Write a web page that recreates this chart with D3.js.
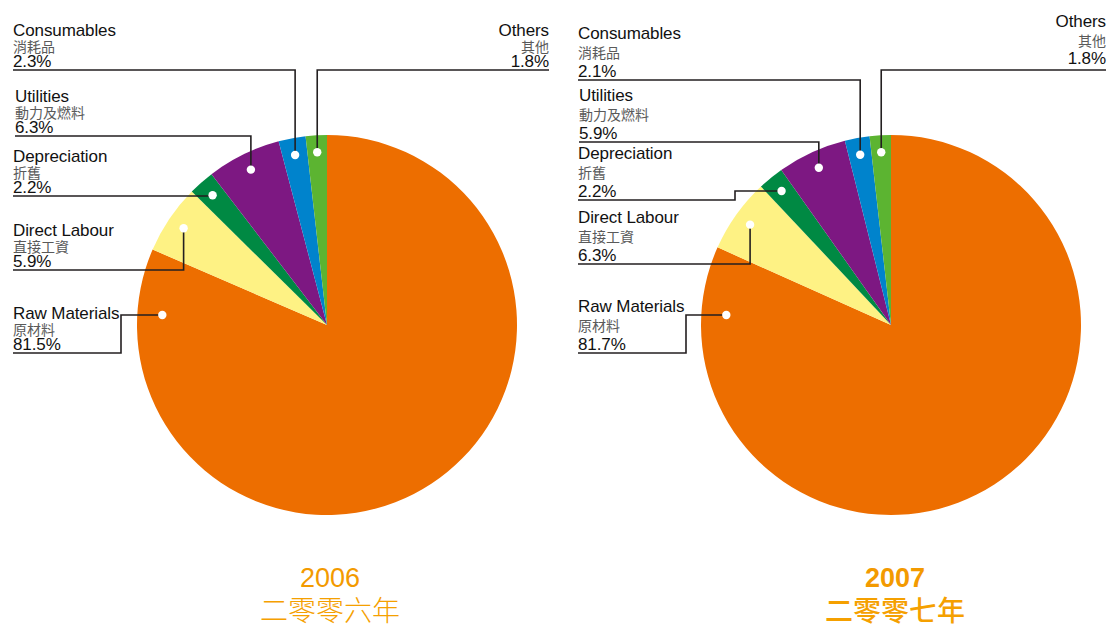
<!DOCTYPE html>
<html>
<head>
<meta charset="utf-8">
<script src="https://cdn.jsdelivr.net/npm/d3@7"></script>
<style>
  body { margin: 0; background: #fff; }
  svg { display: block; }
</style>
</head>
<body>
<div id="chart"></div>
<script>
const categories = ["Raw Materials", "Direct Labour", "Depreciation", "Utilities", "Consumables", "Others"];
const categoriesZh = ["原材料", "直接工資", "折舊", "動力及燃料", "消耗品", "其他"];
const values2006 = [81.5, 5.9, 2.2, 6.3, 2.3, 1.8];
const values2007 = [81.7, 6.3, 2.2, 5.9, 2.1, 1.8];
const years = ["2006", "2007"];
const yearsZh = ["二零零六年", "二零零七年"];

const colors = ["#ED6E00", "#FEF284", "#008943", "#7D1882", "#0083CC", "#5CB431"];

const width = 1107, height = 624;
const radius = 190;
const dotRadius = 173;

// label placement per chart (same order as categories)
const charts = [
    {
        values: values2006, year: years[0], yearZh: yearsZh[0],
        cx: 327, cy: 325, titleX: 330, bold: false,
        textDy: [-34, -18, -3],
        labels: [
            {lineY: 353, textX: 13, bendX: 121, angle: -86.5, r: 165},
            {lineY: 270, textX: 13},
            {lineY: 196, textX: 13},
            {lineY: 136, textX: 15},
            {lineY: 70, textX: 13},
            {lineY: 70, textX: 549, anchor: "end"}
        ]
    },
    {
        values: values2007, year: years[1], yearZh: yearsZh[1],
        cx: 891, cy: 325, titleX: 895, bold: true,
        textDy: [-41, -22, -3],
        labels: [
            {lineY: 353, textX: 578, bendX: 686, angle: -86.5, r: 165},
            {lineY: 264, textX: 578},
            {lineY: 200, textX: 578, bendX: 735},
            {lineY: 142, textX: 579},
            {lineY: 80, textX: 578},
            {lineY: 70, textX: 1106, anchor: "end", textDy: [-43, -24, -6]}
        ]
    }
];

const svg = d3.select("#chart")
    .append("svg")
    .attr("width", width)
    .attr("height", height);

const pie = d3.pie().sort(null).value(d => d);
const arc = d3.arc().innerRadius(0).outerRadius(radius);
const dotArc = d3.arc().innerRadius(dotRadius).outerRadius(dotRadius);

charts.forEach(chart => {
    const arcs = pie(chart.values);
    const g = svg.append("g")
        .attr("transform", `translate(${chart.cx},${chart.cy})`);

    g.selectAll("path.slice")
        .data(arcs)
        .enter()
        .append("path")
        .attr("class", "slice")
        .attr("d", arc)
        .style("fill", (d, i) => colors[i]);

    // dot positions
    const dots = arcs.map((d, i) => {
        const lab = chart.labels[i];
        if (lab.angle !== undefined) {
            const a = lab.angle * Math.PI / 180;
            return [chart.cx + lab.r * Math.sin(a), chart.cy - lab.r * Math.cos(a)];
        }
        const c = dotArc.centroid(d);
        return [chart.cx + c[0], chart.cy + c[1]];
    });

    const line = d3.line();

    chart.labels.forEach((lab, i) => {
        const [dx, dy] = dots[i];
        const bx = lab.bendX !== undefined ? lab.bendX : dx;
        svg.append("path")
            .attr("d", line([[lab.textX, lab.lineY], [bx, lab.lineY], [bx, dy], [dx, dy]]))
            .style("fill", "none")
            .style("stroke", "#231F20")
            .style("stroke-width", 1.6);

        const offs = lab.textDy || chart.textDy;
        const anchor = lab.anchor || "start";

        svg.append("text")
            .attr("x", lab.textX)
            .attr("y", lab.lineY + offs[0])
            .attr("text-anchor", anchor)
            .style("font-family", "'Liberation Sans', Arial, sans-serif")
            .style("font-size", "17px")
            .style("letter-spacing", "-0.1px")
            .style("fill", "#111")
            .text(categories[i]);

        svg.append("text")
            .attr("x", lab.textX)
            .attr("y", lab.lineY + offs[1])
            .attr("text-anchor", anchor)
            .style("font-family", "'Noto Sans CJK TC', sans-serif")
            .style("font-size", "14px")
            .style("fill", "#5a5a5a")
            .text(categoriesZh[i]);

        svg.append("text")
            .attr("x", lab.textX)
            .attr("y", lab.lineY + offs[2])
            .attr("text-anchor", anchor)
            .style("font-family", "'Liberation Sans', Arial, sans-serif")
            .style("font-size", "17px")
            .style("letter-spacing", "-0.1px")
            .style("fill", "#111")
            .text(d3.format(".1f")(chart.values[i]) + "%");
    });

    svg.selectAll(null)
        .data(dots)
        .enter()
        .append("circle")
        .attr("cx", d => d[0])
        .attr("cy", d => d[1])
        .attr("r", 4.2)
        .style("fill", "#fff");

    svg.append("text")
        .attr("x", chart.titleX)
        .attr("y", 587)
        .attr("text-anchor", "middle")
        .style("font-family", "'Liberation Sans', Arial, sans-serif")
        .style("font-size", "27px")
        .style("font-weight", chart.bold ? "bold" : "normal")
        .style("fill", "#F39A00")
        .text(chart.year);

    svg.append("text")
        .attr("x", chart.titleX)
        .attr("y", 621)
        .attr("text-anchor", "middle")
        .style("font-family", "'Noto Sans CJK TC', sans-serif")
        .style("font-size", "28px")
        .style("font-weight", chart.bold ? 500 : 300)
        .style("fill", "#F5A000")
        .text(chart.yearZh);
});
</script>
</body>
</html>
